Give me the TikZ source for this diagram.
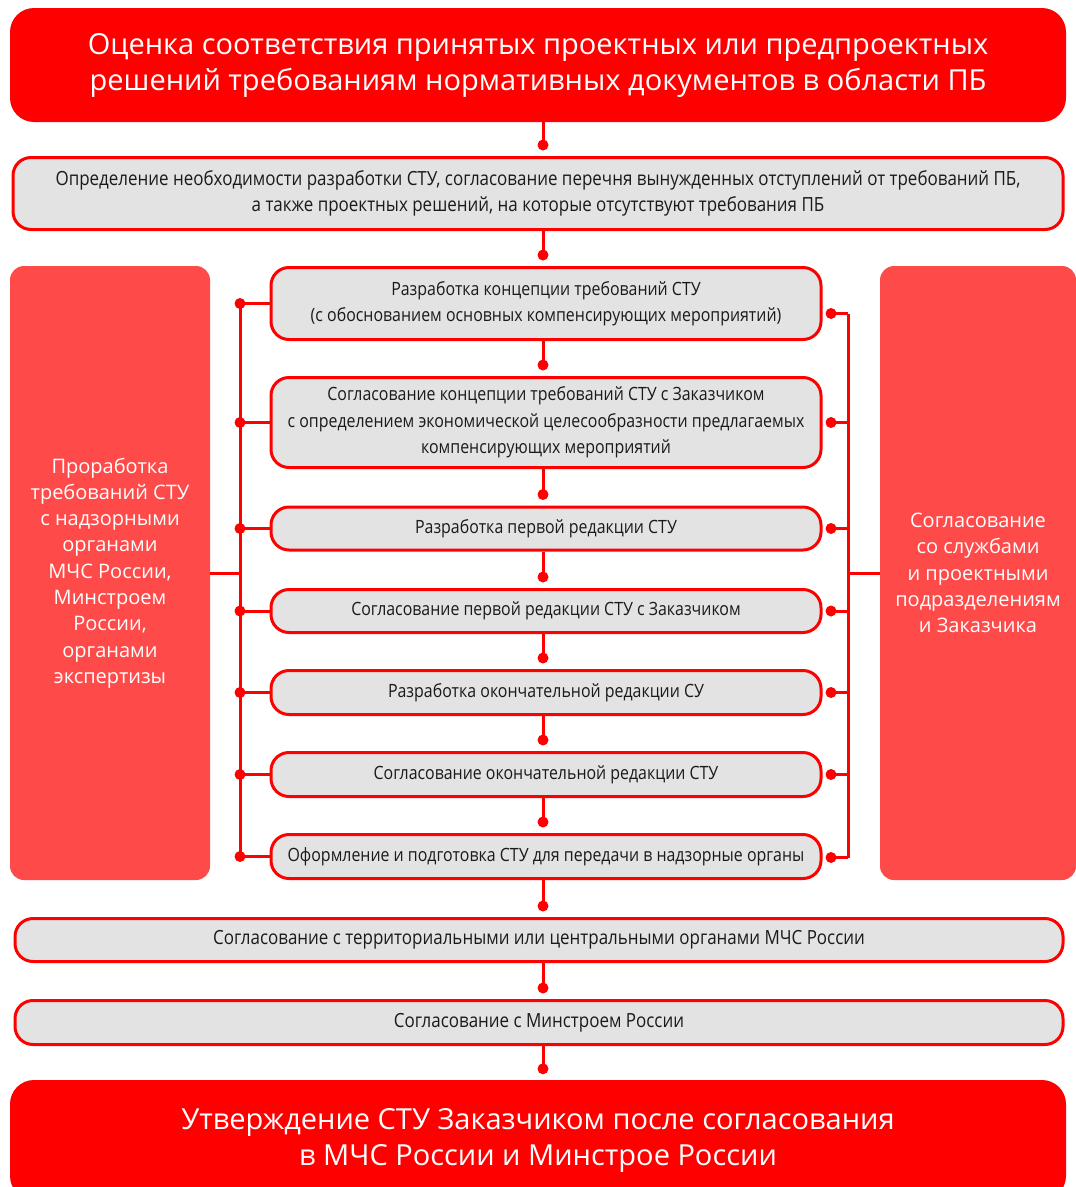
\documentclass[tikz,border=0pt]{standalone}
\usepackage{fontspec}
\setmainfont{Open Sans}
\newfontfamily\condfont[FakeStretch=0.87]{Open Sans}
\usetikzlibrary{calc}
\definecolor{myred}{HTML}{FF0000}
\definecolor{sidered}{HTML}{FF4A4A}
\definecolor{boxgray}{HTML}{E3E3E3}
\definecolor{txt}{HTML}{1A1A1A}
\begin{document}
\begin{tikzpicture}[x=1pt,y=-1pt,
  bigbox/.style={fill=myred, draw=none, rounded corners=24pt, text=white, align=center,
    font=\fontsize{29}{36}\selectfont, inner sep=0pt},
  graybox/.style={fill=boxgray, draw=myred, line width=3pt, rounded corners=18pt, text=txt,
    align=center, font=\condfont\fontsize{19.5}{26.5}\selectfont, inner sep=0pt},
  innerbox/.style={graybox, font=\condfont\fontsize{18.3}{26.5}\selectfont},
  sidebox/.style={fill=sidered, draw=none, rounded corners=14pt, text=white, align=center,
    font=\fontsize{20}{26.3}\selectfont, inner sep=0pt},
  conn/.style={draw=myred, line width=3pt},
  dotn/.style={circle, fill=myred, inner sep=0pt, minimum size=11pt}]
\useasboundingbox (0,0) rectangle (1076,1187);
\fill[white] (0,0) rectangle (1076,1187);

% main column
\node[bigbox, minimum width=1056pt, minimum height=114pt] (top) at (538,65)
  {Оценка соответствия принятых проектных или предпроектных\\решений требованиям нормативных документов в области ПБ};
\node[graybox, minimum width=1050pt, minimum height=72pt] (b2) at (538,193.5)
  {Определение необходимости разработки СТУ, согласование перечня вынужденных отступлений от требований ПБ,\\а также проектных решений, на которые отсутствуют требования ПБ};

\node[sidebox, minimum width=200pt, minimum height=614pt] (left) at (110,573)
  {Проработка\\требований СТУ\\с надзорными\\органами\\МЧС России,\\Минстроем\\России,\\органами\\экспертизы};
\node[sidebox, minimum width=196pt, minimum height=614pt] (right) at (978,573)
  {Согласование\\со службами\\и проектными\\подразделениям\\и Заказчика};

\node[innerbox, minimum width=550pt, minimum height=72pt] (s1) at (546,303.5)
  {Разработка концепции требований СТУ\\(с обоснованием основных компенсирующих мероприятий)};
\node[innerbox, minimum width=550pt, minimum height=90pt] (s2) at (546,422.5)
  {Согласование концепции требований СТУ с Заказчиком\\с определением экономической целесообразности предлагаемых\\компенсирующих мероприятий};
\node[innerbox, minimum width=550pt, minimum height=43pt] (s3) at (546,528.5)
  {Разработка первой редакции СТУ};
\node[innerbox, minimum width=550pt, minimum height=43pt] (s4) at (546,611)
  {Согласование первой редакции СТУ с Заказчиком};
\node[innerbox, minimum width=550pt, minimum height=44pt] (s5) at (546,692.5)
  {Разработка окончательной редакции СУ};
\node[innerbox, minimum width=550pt, minimum height=44pt] (s6) at (546,774.5)
  {Согласование окончательной редакции СТУ};
\node[innerbox, minimum width=550pt, minimum height=44pt] (s7) at (546,856.5)
  {Оформление и подготовка СТУ для передачи в надзорные органы};

\node[graybox, minimum width=1048pt, minimum height=43pt] (b8) at (539,940)
  {Согласование с территориальными или центральными органами МЧС России};
\node[graybox, minimum width=1048pt, minimum height=44pt] (b9) at (539,1022.5)
  {Согласование с Минстроем России};
\node[bigbox, minimum width=1056pt, minimum height=120pt] (bot) at (538,1140)
  {Утверждение СТУ Заказчиком после согласования\\в МЧС России и Минстрое России};

% vertical connectors with dots
\foreach \a/\b in {top/b2, b2/s1, s1/s2, s2/s3, s3/s4, s4/s5, s5/s6, s6/s7, s7/b8, b8/b9, b9/bot} {
  \coordinate (d-\b) at ($(543,0 |- \b.north)+(0,-11)$);
  \draw[conn] (543,0 |- \a.south) -- (d-\b);
  \node[dotn] at (d-\b) {};
}

% left bracket
\foreach \s in {s1,s2,s3,s4,s5,s6,s7} {
  \coordinate (L-\s) at (240,0 |- \s.west);
}
\draw[conn] (L-s1) -- (L-s7);
\draw[conn] (left.east) -- (left.east -| L-s1);
\foreach \s in {s1,s2,s3,s4,s5,s6,s7} {
  \draw[conn] (L-\s) -- (L-\s -| \s.west);
  \node[dotn] at (L-\s) {};
}

% right bracket
\foreach \s/\dy in {s1/10,s2/0,s3/0,s4/0,s5/0,s6/0,s7/1} {
  \coordinate (R-\s) at ($(831,0 |- \s.east)+(0,\dy)$);
  \coordinate (Q-\s) at ($(848,0 |- \s.east)+(0,\dy)$);
}
\draw[conn] (Q-s1) -- (Q-s7);
\draw[conn] (right.west) -- (right.west -| Q-s1);
\foreach \s in {s1,s2,s3,s4,s5,s6,s7} {
  \draw[conn] (R-\s) -- (Q-\s);
  \node[dotn] at (R-\s) {};
}
\end{tikzpicture}
\end{document}
